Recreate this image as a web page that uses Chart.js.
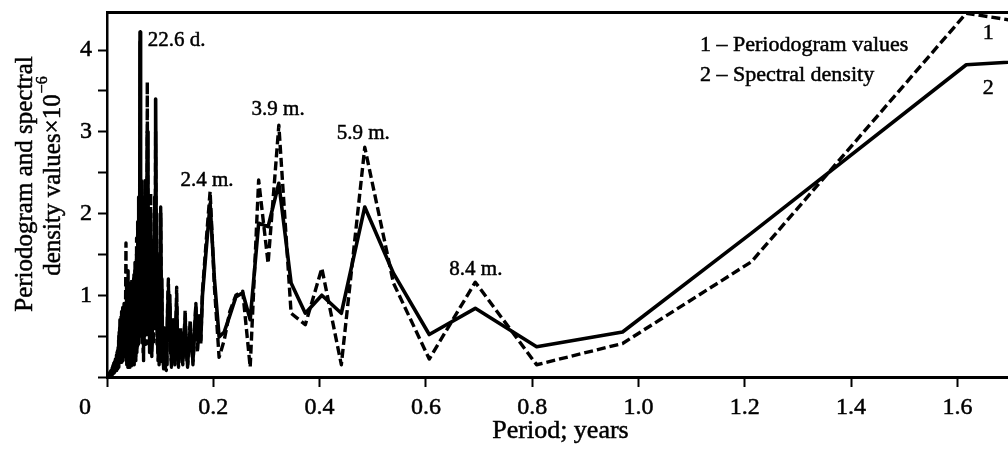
<!DOCTYPE html>
<html>
<head>
<meta charset="utf-8">
<script src="https://cdn.jsdelivr.net/npm/chart.js@4.4.1/dist/chart.umd.min.js"></script>
<style>
  html, body { margin: 0; padding: 0; background: #fff; }
  #wrap { width: 1008px; height: 450px; position: relative; }
</style>
</head>
<body>
<div id="wrap"><canvas id="chart"></canvas></div>
<script>
// Period, years
const periods = [
  0.0010, 0.0020, 0.0030, 0.0040, 0.0050, 0.0060, 0.0070, 0.0080, 0.0090, 0.0100,
  0.0110, 0.0120, 0.0130, 0.0140, 0.0150, 0.0160, 0.0170, 0.0180, 0.0190, 0.0200,
  0.0210, 0.0217, 0.0224, 0.0231, 0.0238, 0.0245, 0.0252, 0.0259, 0.0266, 0.0273,
  0.0280, 0.0287, 0.0294, 0.0301, 0.0308, 0.0315, 0.0322, 0.0329, 0.0336, 0.0343,
  0.0350, 0.0357, 0.0362, 0.0367, 0.0372, 0.0377, 0.0382, 0.0387, 0.0392, 0.0397,
  0.0402, 0.0407, 0.0412, 0.0417, 0.0422, 0.0427, 0.0432, 0.0437, 0.0442, 0.0447,
  0.0452, 0.0457, 0.0462, 0.0467, 0.0472, 0.0477, 0.0482, 0.0487, 0.0492, 0.0497,
  0.0502, 0.0507, 0.0512, 0.0517, 0.0522, 0.0527, 0.0532, 0.0537, 0.0542, 0.0547,
  0.0552, 0.0557, 0.0562, 0.0567, 0.0572, 0.0577, 0.0582, 0.0587, 0.0592, 0.0597,
  0.0602, 0.0606, 0.0610, 0.0614, 0.0618, 0.0622, 0.0626, 0.0630, 0.0634, 0.0638,
  0.0643, 0.0647, 0.0651, 0.0655, 0.0660, 0.0664, 0.0669, 0.0674, 0.0679, 0.0683,
  0.0688, 0.0693, 0.0698, 0.0703, 0.0708, 0.0713, 0.0719, 0.0724, 0.0729, 0.0735,
  0.0740, 0.0746, 0.0752, 0.0758, 0.0764, 0.0770, 0.0776, 0.0782, 0.0788, 0.0795,
  0.0801, 0.0808, 0.0815, 0.0822, 0.0829, 0.0836, 0.0843, 0.0851, 0.0858, 0.0866,
  0.0874, 0.0882, 0.0890, 0.0898, 0.0906, 0.0915, 0.0924, 0.0933, 0.0942, 0.0951,
  0.0960, 0.0970, 0.0980, 0.0990, 0.1000, 0.1010, 0.1021, 0.1032, 0.1043, 0.1054,
  0.1066, 0.1078, 0.1090, 0.1102, 0.1115, 0.1128, 0.1141, 0.1155, 0.1169, 0.1183,
  0.1198, 0.1213, 0.1244, 0.1276, 0.1293, 0.1311, 0.1329, 0.1347, 0.1386, 0.1426,
  0.1447, 0.1470, 0.1493, 0.1516, 0.1565, 0.1617, 0.1672, 0.1702, 0.1732, 0.1764,
  0.1796, 0.1865, 0.1940, 0.2021, 0.2109, 0.2205, 0.2310, 0.2425, 0.2553, 0.2694,
  0.2853, 0.3031, 0.3233, 0.3464, 0.3731, 0.4042, 0.4409, 0.4850, 0.5389, 0.6063,
  0.6929, 0.8083, 0.9700, 1.2125, 1.6167, 2.4250
];

// 2 – Spectral density (solid line), ×10^-6
const spectralDensity = [
  0.01, 0.02, 0.00, 0.04, 0.01, 0.06, 0.02, 0.08, 0.03, 0.11,
  0.04, 0.15, 0.05, 0.18, 0.07, 0.22, 0.08, 0.27, 0.10, 0.32,
  0.12, 0.45, 0.15, 0.55, 0.20, 0.70, 0.22, 0.65, 0.18, 0.80,
  0.25, 0.70, 0.20, 0.85, 0.30, 0.75, 0.25, 0.90, 0.35, 0.85,
  0.30, 0.90, 0.40, 1.20, 0.20, 0.95, 0.15, 1.05, 0.25, 0.90,
  0.12, 1.10, 0.30, 0.95, 0.15, 1.00, 0.20, 1.12, 0.25, 0.90,
  0.15, 1.05, 0.20, 0.95, 0.25, 1.10, 0.15, 1.00, 0.30, 1.20,
  0.20, 1.00, 0.25, 1.15, 0.20, 1.30, 0.30, 1.10, 0.25, 1.40,
  0.35, 1.50, 0.40, 1.30, 0.45, 1.60, 0.50, 1.20, 0.60, 2.20,
  0.80, 1.80, 0.90, 2.20, 1.20, 4.22, 1.60, 2.30, 0.90, 1.90,
  0.70, 2.30, 1.00, 1.50, 0.60, 2.00, 0.80, 1.40, 0.50, 1.10,
  0.40, 1.30, 0.60, 1.70, 0.80, 2.20, 1.00, 1.60, 0.60, 1.40,
  0.70, 2.00, 1.20, 3.00, 1.60, 2.50, 1.00, 1.40, 0.60, 1.20,
  0.50, 1.00, 1.40, 2.00, 1.00, 1.20, 0.40, 0.60, 1.20, 1.50,
  0.60, 0.80, 1.60, 2.20, 1.50, 3.40, 2.00, 1.80, 0.60, 0.90,
  0.30, 0.50, 0.20, 1.10, 1.50, 2.00, 1.00, 1.20, 0.20, 0.35,
  0.15, 0.60, 0.25, 0.20, 0.15, 0.40, 0.80, 1.05, 0.60, 0.90,
  0.40, 0.20, 0.70, 0.20, 0.60, 0.90, 0.40, 0.18, 0.55, 0.20,
  0.45, 0.70, 0.35, 0.15, 0.60, 0.20, 0.85, 0.45, 0.75, 0.45,
  1.00, 1.55, 2.12, 1.20, 0.49, 0.55, 0.75, 0.98, 1.03, 0.70,
  1.88, 1.84, 2.37, 1.15, 0.78, 1.00, 0.78, 2.08, 1.27, 0.52,
  0.84, 0.37, 0.55, 1.76, 3.82, 4.13
];

// 1 – Periodogram values (dashed line), ×10^-6
const periodogram = [
  0.01, 0.00, 0.03, 0.01, 0.05, 0.02, 0.07, 0.02, 0.10, 0.03,
  0.13, 0.05, 0.17, 0.06, 0.21, 0.08, 0.25, 0.10, 0.30, 0.12,
  0.36, 0.20, 0.50, 0.18, 0.60, 0.25, 0.55, 0.20, 0.75, 0.25,
  0.60, 0.20, 0.85, 0.30, 0.70, 0.22, 0.90, 0.30, 0.80, 0.25,
  0.95, 1.64, 0.45, 0.90, 0.15, 1.10, 0.25, 0.90, 0.12, 1.30,
  0.20, 0.95, 0.15, 1.12, 0.25, 0.85, 0.12, 1.15, 0.20, 1.00,
  0.10, 0.90, 0.25, 1.20, 0.15, 0.95, 0.20, 1.10, 0.15, 1.00,
  0.25, 1.25, 0.15, 0.95, 0.30, 1.40, 0.20, 1.30, 0.20, 1.20,
  0.30, 1.70, 0.30, 1.50, 0.35, 1.90, 0.40, 1.00, 0.40, 2.00,
  0.60, 1.50, 0.70, 2.00, 1.00, 4.10, 1.30, 2.00, 0.70, 2.10,
  0.50, 2.40, 0.80, 1.20, 0.40, 2.10, 0.60, 1.60, 0.30, 0.90,
  0.20, 1.20, 0.40, 1.90, 0.50, 2.40, 0.80, 1.50, 0.40, 1.20,
  0.50, 2.40, 1.40, 3.61, 1.50, 3.00, 0.90, 1.80, 0.40, 1.00,
  0.30, 0.70, 1.60, 2.25, 0.80, 1.30, 0.25, 0.40, 1.40, 1.70,
  0.40, 0.60, 1.40, 2.00, 1.30, 3.00, 1.80, 1.60, 0.40, 0.60,
  0.20, 0.40, 0.15, 0.90, 1.40, 2.08, 0.90, 1.10, 0.15, 0.25,
  0.10, 0.50, 0.20, 0.10, 0.08, 0.30, 0.90, 1.20, 0.50, 1.00,
  0.30, 0.12, 0.60, 0.15, 0.50, 1.10, 0.30, 0.12, 0.60, 0.15,
  0.40, 0.82, 0.30, 0.12, 0.70, 0.15, 0.90, 0.30, 0.60, 0.40,
  1.05, 1.65, 2.27, 1.10, 0.24, 0.45, 0.80, 1.00, 1.05, 0.12,
  2.41, 1.39, 3.08, 0.78, 0.64, 1.33, 0.15, 2.81, 1.15, 0.22,
  1.16, 0.15, 0.41, 1.41, 4.45, 3.64
];

const peakLabels = ["22.6 d.", "2.4 m.", "3.9 m.", "5.9 m.", "8.4 m."];
const legendLines = ["1 \u2013 Periodogram values", "2 \u2013 Spectral density"];
const curveNumbers = ["1", "2"];
const xTitle = "Period; years";
const yTitle = ["Periodogram and spectral", "density values\u00d710"];

const SERIF = "'Liberation Serif', 'Times New Roman', serif";
const INK = 0.5; // slight stroke so the text is as heavy as the printed figure

function inkText(ctx, text, x, y) {
  ctx.strokeText(text, x, y);
  ctx.fillText(text, x, y);
}

// Peak captions, legend, origin label and axis titles
const textPlugin = {
  id: "paperText",
  afterDraw(chart) {
    const { ctx, chartArea, scales } = chart;
    const x = scales.x, y = scales.y;
    const anchors = [[0.131, 4.12], [0.188, 2.41], [0.322, 3.27], [0.482, 2.98], [0.694, 1.31]];
    ctx.save();
    ctx.fillStyle = "#000";
    ctx.strokeStyle = "#000";
    ctx.lineWidth = INK;
    ctx.textBaseline = "middle";

    ctx.font = "21px " + SERIF;
    ctx.textAlign = "center";
    peakLabels.forEach((t, i) => {
      inkText(ctx, t, x.getPixelForValue(anchors[i][0]), y.getPixelForValue(anchors[i][1]));
    });

    ctx.font = "22px " + SERIF;
    inkText(ctx, curveNumbers[0], x.getPixelForValue(1.658), y.getPixelForValue(4.21));
    inkText(ctx, curveNumbers[1], x.getPixelForValue(1.658), y.getPixelForValue(3.53));

    ctx.textAlign = "left";
    inkText(ctx, legendLines[0], chartArea.left + 593, chartArea.top + 33);
    inkText(ctx, legendLines[1], chartArea.left + 593, chartArea.top + 63);

    // shared origin label, set left of the axis corner
    ctx.font = "24px " + SERIF;
    ctx.textAlign = "center";
    inkText(ctx, "0", chartArea.left - 22, chartArea.bottom + 31);

    ctx.font = "26px " + SERIF;
    inkText(ctx, xTitle, (chartArea.left + chartArea.right) / 2 + 3, chartArea.bottom + 54);

    // y axis title, two rotated lines with a superscript
    ctx.save();
    ctx.translate(25, 184);
    ctx.rotate(-Math.PI / 2);
    ctx.font = "25px " + SERIF;
    inkText(ctx, yTitle[0], 0, 0);
    ctx.restore();

    ctx.save();
    ctx.translate(53, 176);
    ctx.rotate(-Math.PI / 2);
    ctx.font = "25px " + SERIF;
    const wMain = ctx.measureText(yTitle[1]).width;
    ctx.font = "16px " + SERIF;
    const wSup = ctx.measureText("\u22126").width;
    const start = -(wMain + wSup + 1) / 2;
    ctx.textAlign = "left";
    ctx.font = "25px " + SERIF;
    inkText(ctx, yTitle[1], start, 0);
    ctx.font = "16px " + SERIF;
    inkText(ctx, "\u22126", start + wMain + 1, -10);
    ctx.restore();

    ctx.restore();
  }
};

const X_MAX = 1.6952;
const Y_MAX = 4.465;

new Chart(document.getElementById("chart"), {
  type: "line",
  data: {
    datasets: [
      {
        label: "Periodogram values",
        data: periods.map((p, i) => ({ x: p, y: periodogram[i] })),
        borderColor: "#000",
        borderWidth: 3.4,
        borderDash: [9, 4],
        borderJoinStyle: "round",
        pointRadius: 0,
        tension: 0
      },
      {
        label: "Spectral density",
        data: periods.map((p, i) => ({ x: p, y: spectralDensity[i] })),
        borderColor: "#000",
        borderWidth: 3.6,
        borderJoinStyle: "round",
        pointRadius: 0,
        tension: 0
      }
    ]
  },
  options: {
    responsive: true,
    maintainAspectRatio: false,
    animation: false,
    layout: { padding: { top: 12, right: 0, left: 0, bottom: 0 } },
    plugins: { legend: { display: false }, tooltip: { enabled: false } },
    scales: {
      x: {
        type: "linear",
        position: "bottom",
        min: 0,
        max: X_MAX,
        afterFit: (s) => { s.height = 73; s.paddingLeft = 0; s.paddingRight = 0; },
        border: { display: true, color: "#000", width: 3 },
        grid: { drawOnChartArea: false, drawTicks: true, tickLength: 10, tickWidth: 2, color: "#000" },
        ticks: {
          stepSize: 0.2,
          includeBounds: false,
          autoSkip: false,
          maxRotation: 0,
          padding: 6,
          color: "#000",
          textStrokeColor: "#000",
          textStrokeWidth: INK,
          font: { family: SERIF, size: 24 },
          callback: (v) => (v === 0 ? "" : v.toFixed(1))
        }
      },
      xTop: {
        type: "linear",
        position: "top",
        min: 0,
        max: X_MAX,
        afterFit: (s) => { s.height = 0; },
        border: { display: true, color: "#000", width: 3 },
        grid: { display: false },
        ticks: { display: false }
      },
      y: {
        min: 0,
        max: Y_MAX,
        afterFit: (s) => { s.width = 107; s.paddingTop = 0; s.paddingBottom = 0; },
        border: { display: true, color: "#000", width: 2.5 },
        grid: { drawOnChartArea: false, drawTicks: true, tickLength: 9, tickWidth: 2, color: "#000" },
        ticks: {
          stepSize: 0.5,
          includeBounds: false,
          autoSkip: false,
          padding: 6,
          color: "#000",
          textStrokeColor: "#000",
          textStrokeWidth: INK,
          font: { family: SERIF, size: 24 },
          callback: (v) => (v > 0 && Number.isInteger(v) ? String(v) : "")
        }
      }
    }
  },
  plugins: [textPlugin]
});
</script>
</body>
</html>
